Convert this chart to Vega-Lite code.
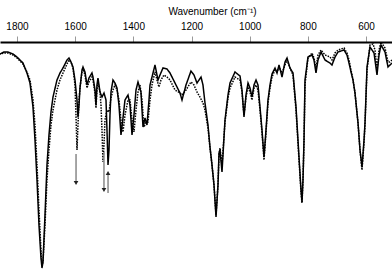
{
  "$schema": "https://vega.github.io/schema/vega-lite/v6.json",
  "width": 392,
  "height": 228,
  "autosize": {"type": "none"},
  "padding": {"top": 42, "left": 0, "right": 0, "bottom": 0},
  "config": {"view": {"stroke": null}, "font": "Liberation Sans"},
  "datasets": {
    "spec": [
      {"s":"a","wn":1858.4,"T":216},{"s":"a","wn":1844.7,"T":218},{"s":"a","wn":1830.9,"T":218},{"s":"a","wn":1813.8,"T":216},{"s":"a","wn":1800.0,"T":213},{"s":"a","wn":1789.7,"T":210},{"s":"a","wn":1779.4,"T":207},{"s":"a","wn":1765.6,"T":197},{"s":"a","wn":1755.3,"T":187},{"s":"a","wn":1745.0,"T":163},{"s":"a","wn":1738.1,"T":130},{"s":"a","wn":1731.2,"T":90},{"s":"a","wn":1724.4,"T":45},{"s":"a","wn":1717.5,"T":12},{"s":"a","wn":1714.1,"T":2},{"s":"a","wn":1710.6,"T":8},{"s":"a","wn":1703.7,"T":55},{"s":"a","wn":1696.9,"T":105},{"s":"a","wn":1690.0,"T":135},{"s":"a","wn":1683.1,"T":158},{"s":"a","wn":1676.2,"T":173},{"s":"a","wn":1662.5,"T":190},{"s":"a","wn":1652.2,"T":197},{"s":"a","wn":1641.9,"T":202},{"s":"a","wn":1628.1,"T":210},{"s":"a","wn":1621.2,"T":212},{"s":"a","wn":1614.3,"T":208},{"s":"a","wn":1607.5,"T":203},{"s":"a","wn":1600.6,"T":190},{"s":"a","wn":1593.7,"T":170},{"s":"a","wn":1590.3,"T":153},{"s":"a","wn":1586.8,"T":165},{"s":"a","wn":1583.4,"T":182},{"s":"a","wn":1576.5,"T":200},{"s":"a","wn":1573.1,"T":203},{"s":"a","wn":1566.2,"T":198},{"s":"a","wn":1559.4,"T":185},{"s":"a","wn":1552.5,"T":192},{"s":"a","wn":1542.2,"T":197},{"s":"a","wn":1538.7,"T":193},{"s":"a","wn":1531.8,"T":180},{"s":"a","wn":1528.4,"T":165},{"s":"a","wn":1525.0,"T":185},{"s":"a","wn":1521.6,"T":192},{"s":"a","wn":1514.7,"T":178},{"s":"a","wn":1507.8,"T":173},{"s":"a","wn":1500.9,"T":177},{"s":"a","wn":1494.0,"T":170},{"s":"a","wn":1490.6,"T":140},{"s":"a","wn":1487.1,"T":105},{"s":"a","wn":1483.7,"T":120},{"s":"a","wn":1480.3,"T":155},{"s":"a","wn":1476.8,"T":178},{"s":"a","wn":1470.0,"T":190},{"s":"a","wn":1463.1,"T":187},{"s":"a","wn":1456.2,"T":182},{"s":"a","wn":1449.4,"T":165},{"s":"a","wn":1442.5,"T":135},{"s":"a","wn":1435.6,"T":152},{"s":"a","wn":1428.7,"T":170},{"s":"a","wn":1418.4,"T":175},{"s":"a","wn":1411.5,"T":165},{"s":"a","wn":1404.6,"T":135},{"s":"a","wn":1397.8,"T":155},{"s":"a","wn":1390.9,"T":180},{"s":"a","wn":1384.0,"T":188},{"s":"a","wn":1373.8,"T":178},{"s":"a","wn":1366.8,"T":143},{"s":"a","wn":1360.0,"T":152},{"s":"a","wn":1353.1,"T":145},{"s":"a","wn":1346.2,"T":170},{"s":"a","wn":1342.7,"T":185},{"s":"a","wn":1332.4,"T":197},{"s":"a","wn":1325.6,"T":205},{"s":"a","wn":1315.2,"T":190},{"s":"a","wn":1308.4,"T":195},{"s":"a","wn":1298.1,"T":202},{"s":"a","wn":1284.3,"T":201},{"s":"a","wn":1274.0,"T":197},{"s":"a","wn":1256.8,"T":187},{"s":"a","wn":1239.6,"T":177},{"s":"a","wn":1232.7,"T":170},{"s":"a","wn":1219.0,"T":185},{"s":"a","wn":1201.8,"T":199},{"s":"a","wn":1191.5,"T":195},{"s":"a","wn":1181.2,"T":187},{"s":"a","wn":1167.4,"T":193},{"s":"a","wn":1160.6,"T":185},{"s":"a","wn":1153.7,"T":167},{"s":"a","wn":1143.4,"T":145},{"s":"a","wn":1136.5,"T":123},{"s":"a","wn":1129.6,"T":105},{"s":"a","wn":1122.7,"T":85},{"s":"a","wn":1115.8,"T":53},{"s":"a","wn":1109.0,"T":85},{"s":"a","wn":1105.5,"T":117},{"s":"a","wn":1102.1,"T":120},{"s":"a","wn":1095.2,"T":98},{"s":"a","wn":1084.9,"T":150},{"s":"a","wn":1074.6,"T":175},{"s":"a","wn":1067.7,"T":187},{"s":"a","wn":1050.5,"T":198},{"s":"a","wn":1033.3,"T":194},{"s":"a","wn":1026.5,"T":180},{"s":"a","wn":1019.6,"T":153},{"s":"a","wn":1012.7,"T":175},{"s":"a","wn":1005.8,"T":187},{"s":"a","wn":999.0,"T":182},{"s":"a","wn":992.1,"T":173},{"s":"a","wn":985.2,"T":185},{"s":"a","wn":978.3,"T":190},{"s":"a","wn":971.5,"T":185},{"s":"a","wn":964.6,"T":163},{"s":"a","wn":957.7,"T":140},{"s":"a","wn":950.8,"T":113},{"s":"a","wn":944.0,"T":140},{"s":"a","wn":937.1,"T":170},{"s":"a","wn":930.2,"T":185},{"s":"a","wn":923.3,"T":196},{"s":"a","wn":913.0,"T":202},{"s":"a","wn":906.1,"T":197},{"s":"a","wn":899.2,"T":205},{"s":"a","wn":888.9,"T":193},{"s":"a","wn":878.6,"T":208},{"s":"a","wn":871.7,"T":212},{"s":"a","wn":861.4,"T":202},{"s":"a","wn":851.1,"T":197},{"s":"a","wn":840.8,"T":163},{"s":"a","wn":830.5,"T":113},{"s":"a","wn":823.6,"T":80},{"s":"a","wn":820.2,"T":68},{"s":"a","wn":816.8,"T":90},{"s":"a","wn":813.3,"T":130},{"s":"a","wn":809.9,"T":190},{"s":"a","wn":799.6,"T":213},{"s":"a","wn":785.8,"T":215},{"s":"a","wn":779.0,"T":210},{"s":"a","wn":772.1,"T":197},{"s":"a","wn":765.2,"T":210},{"s":"a","wn":754.8,"T":218},{"s":"a","wn":741.1,"T":210},{"s":"a","wn":723.9,"T":207},{"s":"a","wn":717.0,"T":205},{"s":"a","wn":706.7,"T":213},{"s":"a","wn":696.4,"T":218},{"s":"a","wn":675.8,"T":220},{"s":"a","wn":665.5,"T":215},{"s":"a","wn":658.6,"T":207},{"s":"a","wn":651.7,"T":198},{"s":"a","wn":644.8,"T":190},{"s":"a","wn":638.0,"T":177},{"s":"a","wn":627.6,"T":147},{"s":"a","wn":620.8,"T":120},{"s":"a","wn":613.9,"T":103},{"s":"a","wn":607.0,"T":130},{"s":"a","wn":603.6,"T":147},{"s":"a","wn":596.7,"T":203},{"s":"a","wn":586.4,"T":223},{"s":"a","wn":572.6,"T":217},{"s":"a","wn":562.3,"T":195},{"s":"a","wn":555.4,"T":215},{"s":"a","wn":548.6,"T":225},{"s":"a","wn":534.8,"T":218},{"s":"a","wn":524.5,"T":203},{"s":"a","wn":517.7,"T":205},{"s":"a","wn":510.8,"T":207},
      {"s":"b","wn":1858.4,"T":216},{"s":"b","wn":1844.7,"T":217},{"s":"b","wn":1830.9,"T":217},{"s":"b","wn":1813.8,"T":215},{"s":"b","wn":1800.0,"T":212},{"s":"b","wn":1789.7,"T":209},{"s":"b","wn":1779.4,"T":206},{"s":"b","wn":1765.6,"T":198},{"s":"b","wn":1755.3,"T":190},{"s":"b","wn":1745.0,"T":170},{"s":"b","wn":1738.1,"T":145},{"s":"b","wn":1731.2,"T":105},{"s":"b","wn":1724.4,"T":60},{"s":"b","wn":1717.5,"T":20},{"s":"b","wn":1714.1,"T":5},{"s":"b","wn":1710.6,"T":8},{"s":"b","wn":1703.7,"T":45},{"s":"b","wn":1696.9,"T":90},{"s":"b","wn":1690.0,"T":120},{"s":"b","wn":1683.1,"T":145},{"s":"b","wn":1676.2,"T":160},{"s":"b","wn":1662.5,"T":180},{"s":"b","wn":1652.2,"T":190},{"s":"b","wn":1641.9,"T":197},{"s":"b","wn":1628.1,"T":206},{"s":"b","wn":1621.2,"T":210},{"s":"b","wn":1614.3,"T":208},{"s":"b","wn":1607.5,"T":202},{"s":"b","wn":1600.6,"T":185},{"s":"b","wn":1597.2,"T":155},{"s":"b","wn":1593.7,"T":120},{"s":"b","wn":1590.3,"T":145},{"s":"b","wn":1586.8,"T":170},{"s":"b","wn":1583.4,"T":182},{"s":"b","wn":1576.5,"T":198},{"s":"b","wn":1573.1,"T":201},{"s":"b","wn":1566.2,"T":195},{"s":"b","wn":1559.4,"T":182},{"s":"b","wn":1552.5,"T":188},{"s":"b","wn":1542.2,"T":193},{"s":"b","wn":1538.7,"T":190},{"s":"b","wn":1531.8,"T":177},{"s":"b","wn":1528.4,"T":162},{"s":"b","wn":1525.0,"T":180},{"s":"b","wn":1521.6,"T":188},{"s":"b","wn":1514.7,"T":178},{"s":"b","wn":1511.2,"T":165},{"s":"b","wn":1507.8,"T":140},{"s":"b","wn":1504.4,"T":108},{"s":"b","wn":1500.9,"T":125},{"s":"b","wn":1497.5,"T":150},{"s":"b","wn":1490.6,"T":160},{"s":"b","wn":1483.7,"T":158},{"s":"b","wn":1476.8,"T":172},{"s":"b","wn":1470.0,"T":180},{"s":"b","wn":1463.1,"T":185},{"s":"b","wn":1456.2,"T":180},{"s":"b","wn":1449.4,"T":170},{"s":"b","wn":1442.5,"T":150},{"s":"b","wn":1435.6,"T":138},{"s":"b","wn":1428.7,"T":155},{"s":"b","wn":1418.4,"T":170},{"s":"b","wn":1411.5,"T":170},{"s":"b","wn":1404.6,"T":150},{"s":"b","wn":1397.8,"T":138},{"s":"b","wn":1390.9,"T":160},{"s":"b","wn":1384.0,"T":178},{"s":"b","wn":1377.2,"T":185},{"s":"b","wn":1370.3,"T":170},{"s":"b","wn":1363.4,"T":143},{"s":"b","wn":1356.6,"T":148},{"s":"b","wn":1349.7,"T":148},{"s":"b","wn":1342.7,"T":170},{"s":"b","wn":1335.9,"T":185},{"s":"b","wn":1325.6,"T":198},{"s":"b","wn":1318.7,"T":190},{"s":"b","wn":1311.8,"T":183},{"s":"b","wn":1305.0,"T":190},{"s":"b","wn":1294.7,"T":195},{"s":"b","wn":1284.3,"T":193},{"s":"b","wn":1274.0,"T":190},{"s":"b","wn":1256.8,"T":180},{"s":"b","wn":1239.6,"T":177},{"s":"b","wn":1232.7,"T":175},{"s":"b","wn":1219.0,"T":180},{"s":"b","wn":1201.8,"T":188},{"s":"b","wn":1191.5,"T":185},{"s":"b","wn":1181.2,"T":178},{"s":"b","wn":1170.9,"T":173},{"s":"b","wn":1160.6,"T":167},{"s":"b","wn":1153.7,"T":160},{"s":"b","wn":1143.4,"T":142},{"s":"b","wn":1136.5,"T":122},{"s":"b","wn":1129.6,"T":105},{"s":"b","wn":1122.7,"T":85},{"s":"b","wn":1115.8,"T":55},{"s":"b","wn":1109.0,"T":85},{"s":"b","wn":1105.5,"T":115},{"s":"b","wn":1102.1,"T":122},{"s":"b","wn":1095.2,"T":105},{"s":"b","wn":1084.9,"T":148},{"s":"b","wn":1074.6,"T":172},{"s":"b","wn":1067.7,"T":182},{"s":"b","wn":1050.5,"T":193},{"s":"b","wn":1033.3,"T":190},{"s":"b","wn":1026.5,"T":178},{"s":"b","wn":1019.6,"T":155},{"s":"b","wn":1012.7,"T":173},{"s":"b","wn":1005.8,"T":183},{"s":"b","wn":999.0,"T":178},{"s":"b","wn":992.1,"T":170},{"s":"b","wn":985.2,"T":182},{"s":"b","wn":978.3,"T":185},{"s":"b","wn":971.5,"T":180},{"s":"b","wn":964.6,"T":160},{"s":"b","wn":957.7,"T":137},{"s":"b","wn":950.8,"T":110},{"s":"b","wn":944.0,"T":137},{"s":"b","wn":937.1,"T":167},{"s":"b","wn":930.2,"T":182},{"s":"b","wn":923.3,"T":193},{"s":"b","wn":913.0,"T":200},{"s":"b","wn":906.1,"T":198},{"s":"b","wn":899.2,"T":203},{"s":"b","wn":888.9,"T":197},{"s":"b","wn":878.6,"T":205},{"s":"b","wn":871.7,"T":210},{"s":"b","wn":861.4,"T":202},{"s":"b","wn":851.1,"T":195},{"s":"b","wn":840.8,"T":160},{"s":"b","wn":830.5,"T":110},{"s":"b","wn":823.6,"T":78},{"s":"b","wn":820.2,"T":67},{"s":"b","wn":816.8,"T":90},{"s":"b","wn":813.3,"T":128},{"s":"b","wn":809.9,"T":185},{"s":"b","wn":799.6,"T":212},{"s":"b","wn":785.8,"T":217},{"s":"b","wn":779.0,"T":212},{"s":"b","wn":772.1,"T":202},{"s":"b","wn":765.2,"T":215},{"s":"b","wn":754.8,"T":220},{"s":"b","wn":741.1,"T":215},{"s":"b","wn":723.9,"T":213},{"s":"b","wn":717.0,"T":210},{"s":"b","wn":706.7,"T":217},{"s":"b","wn":696.4,"T":220},{"s":"b","wn":675.8,"T":222},{"s":"b","wn":665.5,"T":217},{"s":"b","wn":658.6,"T":210},{"s":"b","wn":651.7,"T":200},{"s":"b","wn":644.8,"T":190},{"s":"b","wn":638.0,"T":177},{"s":"b","wn":627.6,"T":147},{"s":"b","wn":620.8,"T":120},{"s":"b","wn":613.9,"T":100},{"s":"b","wn":607.0,"T":127},{"s":"b","wn":603.6,"T":145},{"s":"b","wn":596.7,"T":200},{"s":"b","wn":586.4,"T":225},{"s":"b","wn":576.1,"T":226},{"s":"b","wn":569.2,"T":220},{"s":"b","wn":562.3,"T":200},{"s":"b","wn":555.4,"T":220},{"s":"b","wn":548.6,"T":228},{"s":"b","wn":534.8,"T":222},{"s":"b","wn":524.5,"T":208},{"s":"b","wn":517.7,"T":208},{"s":"b","wn":510.8,"T":210}
    ],
    "arrows": [
      {"wn": 1597, "T1": 116, "T2": 87, "dir": "down"},
      {"wn": 1501, "T1": 118, "T2": 80, "dir": "down"},
      {"wn": 1487, "T1": 77, "T2": 97, "dir": "up"}
    ]
  },
  "encoding": {
    "x": {
      "field": "wn", "type": "quantitative",
      "scale": {"domain": [510.8, 1858.4], "reverse": true, "nice": false, "zero": false},
      "axis": {
        "orient": "top", "values": [1800, 1600, 1400, 1200, 1000, 800, 600], "format": "d",
        "grid": false, "domainColor": "#000", "domainWidth": 2,
        "tickColor": "#999", "tickWidth": 1, "tickSize": 6,
        "labelFontSize": 10, "labelColor": "#000", "labelPadding": 5, "labelFlush": false,
        "title": "Wavenumber (cm⁻¹)", "titleFontSize": 10, "titleFontWeight": "normal",
        "titleColor": "#000", "titleX": 212, "titlePadding": 5
      }
    }
  },
  "layer": [
    {
      "data": {"name": "spec"},
      "mark": {"type": "line", "color": "#000", "strokeWidth": 1.5},
      "encoding": {
        "y": {"field": "T", "type": "quantitative", "scale": {"domain": [0, 228], "nice": false, "zero": false}, "axis": null},
        "strokeDash": {"field": "s", "type": "nominal", "scale": {"domain": ["a", "b"], "range": [[1, 0], [1.5, 1.2]]}, "legend": null},
        "strokeWidth": {"field": "s", "type": "nominal", "scale": {"domain": ["a", "b"], "range": [1.6, 1.4]}, "legend": null},
        "order": {"field": "wn", "type": "quantitative"}
      }
    },
    {
      "data": {"name": "arrows"},
      "mark": {"type": "rule", "color": "#888", "strokeWidth": 1.5},
      "encoding": {
        "y": {"field": "T1", "type": "quantitative", "scale": {"domain": [0, 228], "nice": false, "zero": false}, "axis": null},
        "y2": {"field": "T2"}
      }
    },
    {
      "data": {"name": "arrows"},
      "mark": {"type": "point", "filled": true, "color": "#222", "size": 22, "opacity": 1},
      "encoding": {
        "y": {"field": "T2", "type": "quantitative", "scale": {"domain": [0, 228], "nice": false, "zero": false}, "axis": null},
        "shape": {"field": "dir", "type": "nominal", "scale": {"domain": ["down", "up"], "range": ["triangle-down", "triangle-up"]}, "legend": null}
      }
    }
  ]
}
